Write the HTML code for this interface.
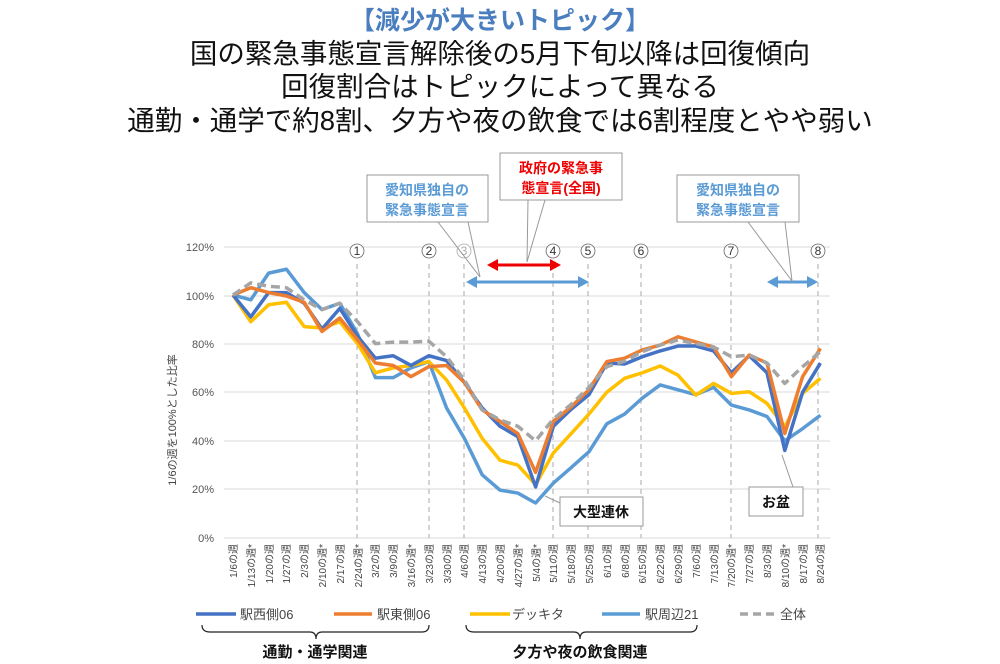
<!DOCTYPE html>
<html><head><meta charset="utf-8"><style>
html,body{margin:0;padding:0;background:#fff;}
svg{display:block;font-family:"Liberation Sans","Noto Sans CJK JP",sans-serif;}
</style></head><body>
<svg width="1000" height="664" viewBox="0 0 1000 664" xmlns="http://www.w3.org/2000/svg">
<g text-anchor="middle" font-family="Liberation Sans, Noto Sans CJK JP, sans-serif">
<text x="500" y="29" font-size="25" font-weight="bold" fill="#4a7ebf">【減少が大きいトピック】</text>
<text x="500" y="63" font-size="27.5" fill="#111">国の緊急事態宣言解除後の5月下旬以降は回復傾向</text>
<text x="500" y="96" font-size="27.5" fill="#111">回復割合はトピックによって異なる</text>
<text x="500" y="130" font-size="27.5" fill="#111">通勤・通学で約8割、夕方や夜の飲食では6割程度とやや弱い</text>
</g>
<g stroke="#d9d9d9" stroke-width="1">
<line x1="224" y1="247" x2="830" y2="247"/><line x1="224" y1="296" x2="830" y2="296"/>
<line x1="224" y1="344" x2="830" y2="344"/><line x1="224" y1="392" x2="830" y2="392"/>
<line x1="224" y1="441" x2="830" y2="441"/><line x1="224" y1="489" x2="830" y2="489"/>
<line x1="224" y1="538" x2="830" y2="538"/>
</g>
<g font-size="11" fill="#555" text-anchor="end">
<text x="214" y="251">120%</text><text x="214" y="300">100%</text><text x="214" y="348">80%</text>
<text x="214" y="396">60%</text><text x="214" y="445">40%</text><text x="214" y="493">20%</text><text x="214" y="542">0%</text>
</g>
<text transform="translate(176,420) rotate(-90)" font-size="11" fill="#444" text-anchor="middle">1/6の週を100%とした比率</text>
<g stroke="#aaa" stroke-width="1" stroke-dasharray="5,4">
<line x1="357" y1="264" x2="357" y2="538"/><line x1="429" y1="264" x2="429" y2="538"/>
<line x1="464" y1="264" x2="464" y2="538"/><line x1="553" y1="264" x2="553" y2="538"/>
<line x1="588" y1="264" x2="588" y2="538"/><line x1="641" y1="264" x2="641" y2="538"/>
<line x1="731" y1="264" x2="731" y2="538"/><line x1="818" y1="264" x2="818" y2="538"/>
</g>
<g font-size="12" fill="#333" text-anchor="middle">
<g fill="#fff" stroke="#666" stroke-width="0.8">
<circle cx="357" cy="251" r="7"/><circle cx="429" cy="251" r="7"/><circle cx="464" cy="251" r="7" stroke="#aaa"/>
<circle cx="553" cy="251" r="7"/><circle cx="588" cy="251" r="7"/><circle cx="641" cy="251" r="7"/>
<circle cx="731" cy="251" r="7"/><circle cx="818" cy="251" r="7"/>
</g>
<text x="357" y="255">1</text><text x="429" y="255">2</text><text x="464" y="255" fill="#aaa">3</text>
<text x="553" y="255">4</text><text x="588" y="255">5</text><text x="641" y="255">6</text>
<text x="731" y="255">7</text><text x="818" y="255">8</text>
</g>
<g transform="translate(233,538) scale(17.8,-2.43)" fill="none" stroke-width="3.5" stroke-linejoin="round">
<polyline vector-effect="non-scaling-stroke" stroke="#5b9bd5" points="0,100 1,98 2,109 3,110.6 4,101 5,94 6,96.6 7,84 8,66 9,66 10,70 11,72.6 12,53.5 13,41 14,26 15,19.7 16,18.5 17,14.4 18,22.6 19,29 20,35.5 21,47 22,51 23,57.6 24,63 25,61 26,59 27,62 28,54.7 29,52.7 30,50 31,40 32,45 33,50.5"/>
<polyline vector-effect="non-scaling-stroke" stroke="#ffc000" points="0,100 1,89 2,96 3,97 4,87 5,86.4 6,89 7,80 8,68 9,70 10,71 11,72.6 12,65 13,53.5 14,41 15,32 16,30 17,22 18,35 19,43 20,51 21,60 22,65.7 23,68 24,70.8 25,67 26,58.8 27,63.6 28,59.5 29,60.2 30,55.4 31,45.8 32,59.5 33,65.7"/>
<polyline vector-effect="non-scaling-stroke" stroke="#4472c4" points="0,100 1,91 2,101 3,101 4,96.6 5,86 6,94.5 7,83 8,74 9,75 10,71 11,75 12,73 13,64 14,53.5 15,46 16,41.7 17,21 18,46 19,53 20,59 21,72 22,71.6 23,74.6 24,77 25,79 26,79 27,77 28,68 29,75 30,68 31,36 32,60 33,72"/>
<polyline vector-effect="non-scaling-stroke" stroke="#ed7d31" points="0,100 1,103 2,101 3,99.6 4,97 5,85 6,90.5 7,81.5 8,72 9,71 10,66.4 11,70.5 12,71 13,64 14,52.7 15,48 16,43 17,27 18,48 19,54 20,61 21,72.6 22,74 23,77.4 24,79.4 25,82.8 26,80.7 27,78.6 28,66.4 29,75.3 30,72 31,43 32,66.4 33,78"/>
<polyline vector-effect="non-scaling-stroke" stroke="#a5a5a5" stroke-dasharray="9,5" points="0,100 1,105 2,103.6 3,103 4,98 5,94 6,96.6 7,89 8,80 9,80.6 10,80.6 11,81 12,74.6 13,65 14,52.7 15,48.6 16,46 17,40 18,49 19,55 20,62 21,70.5 22,72.8 23,76.7 24,79.4 25,81.5 26,80 27,78.6 28,74.6 29,75.3 30,72 31,63.6 32,70.5 33,76.7"/>
</g>
<g stroke-width="3">
<line x1="496" y1="265" x2="551" y2="265" stroke="#e00"/>
<polygon points="487,265 498,259 498,271" fill="#e00"/><polygon points="561,265 550,259 550,271" fill="#e00"/>
<line x1="476" y1="282" x2="578" y2="282" stroke="#5b9bd5"/>
<polygon points="466,282 477,276 477,288" fill="#5b9bd5"/><polygon points="589,282 578,276 578,288" fill="#5b9bd5"/>
<line x1="777" y1="282" x2="808" y2="282" stroke="#5b9bd5"/>
<polygon points="767,282 778,276 778,288" fill="#5b9bd5"/><polygon points="818,282 807,276 807,288" fill="#5b9bd5"/>
</g>
<g fill="#fff" stroke="#999" stroke-width="1">
<polyline points="438,222 480,277 468,222" fill="none"/>
<rect x="367" y="175" width="121" height="47"/>
<polyline points="528,200 527,262 545,200" fill="none"/>
<rect x="500" y="153" width="122" height="47"/>
<polyline points="748,222 792,281 785,222" fill="none"/>
<rect x="677" y="175" width="122" height="47"/>
<polyline points="545,496 560,503" fill="none"/>
<rect x="560" y="497" width="83" height="29"/>
<polyline points="782,455 793,487" fill="none"/>
<rect x="749" y="487" width="54" height="29"/>
</g>
<g font-size="14" font-weight="bold" text-anchor="middle">
<text x="427" y="195" fill="#5b9bd5">愛知県独自の</text><text x="427" y="215" fill="#5b9bd5">緊急事態宣言</text>
<text x="561" y="173" fill="#e00">政府の緊急事</text><text x="561" y="193" fill="#e00">態宣言(全国)</text>
<text x="738" y="195" fill="#5b9bd5">愛知県独自の</text><text x="738" y="215" fill="#5b9bd5">緊急事態宣言</text>
<text x="601" y="517" fill="#111">大型連休</text>
<text x="776" y="507" fill="#111">お盆</text>
</g>
<g font-size="10" fill="#444" text-anchor="end">
<text transform="translate(237,544) rotate(-90)">1/6の週</text>
<text transform="translate(255,544) rotate(-90)">1/13の週*</text>
<text transform="translate(273,544) rotate(-90)">1/20の週</text>
<text transform="translate(290,544) rotate(-90)">1/27の週</text>
<text transform="translate(308,544) rotate(-90)">2/3の週</text>
<text transform="translate(326,544) rotate(-90)">2/10の週*</text>
<text transform="translate(344,544) rotate(-90)">2/17の週</text>
<text transform="translate(362,544) rotate(-90)">2/24の週*</text>
<text transform="translate(379,544) rotate(-90)">3/2の週</text>
<text transform="translate(397,544) rotate(-90)">3/9の週</text>
<text transform="translate(415,544) rotate(-90)">3/16の週*</text>
<text transform="translate(433,544) rotate(-90)">3/23の週</text>
<text transform="translate(451,544) rotate(-90)">3/30の週</text>
<text transform="translate(468,544) rotate(-90)">4/6の週</text>
<text transform="translate(486,544) rotate(-90)">4/13の週</text>
<text transform="translate(504,544) rotate(-90)">4/20の週</text>
<text transform="translate(522,544) rotate(-90)">4/27の週*</text>
<text transform="translate(540,544) rotate(-90)">5/4の週*</text>
<text transform="translate(557,544) rotate(-90)">5/11の週</text>
<text transform="translate(575,544) rotate(-90)">5/18の週</text>
<text transform="translate(593,544) rotate(-90)">5/25の週</text>
<text transform="translate(611,544) rotate(-90)">6/1の週</text>
<text transform="translate(629,544) rotate(-90)">6/8の週</text>
<text transform="translate(646,544) rotate(-90)">6/15の週</text>
<text transform="translate(664,544) rotate(-90)">6/22の週</text>
<text transform="translate(682,544) rotate(-90)">6/29の週</text>
<text transform="translate(700,544) rotate(-90)">7/6の週</text>
<text transform="translate(718,544) rotate(-90)">7/13の週</text>
<text transform="translate(735,544) rotate(-90)">7/20の週*</text>
<text transform="translate(753,544) rotate(-90)">7/27の週</text>
<text transform="translate(771,544) rotate(-90)">8/3の週</text>
<text transform="translate(789,544) rotate(-90)">8/10の週*</text>
<text transform="translate(807,544) rotate(-90)">8/17の週</text>
<text transform="translate(824,544) rotate(-90)">8/24の週</text>
</g>
<g stroke-width="3.5">
<line x1="196" y1="614" x2="236" y2="614" stroke="#4472c4"/>
<line x1="334" y1="614" x2="372" y2="614" stroke="#ed7d31"/>
<line x1="470" y1="614" x2="510" y2="614" stroke="#ffc000"/>
<line x1="602" y1="614" x2="640" y2="614" stroke="#5b9bd5"/>
<line x1="740" y1="614" x2="774" y2="614" stroke="#a5a5a5" stroke-dasharray="8,5"/>
</g>
<g font-size="13" fill="#444">
<text x="240" y="619">駅西側06</text><text x="377" y="619">駅東側06</text>
<text x="512" y="619">デッキタ</text><text x="645" y="619">駅周辺21</text><text x="780" y="619">全体</text>
</g>
<g fill="none" stroke="#222" stroke-width="1.2">
<path d="M202,625 Q202,632 210,632 L310,632 Q316,632 316,639 Q316,632 322,632 L422,632 Q429,632 429,625"/>
<path d="M466,625 Q466,632 474,632 L574,632 Q580,632 580,639 Q580,632 586,632 L690,632 Q697,632 697,625"/>
</g>
<g font-size="15" font-weight="bold" fill="#111" text-anchor="middle">
<text x="315" y="657">通勤・通学関連</text>
<text x="580" y="657">夕方や夜の飲食関連</text>
</g>
</svg>
</body></html>
